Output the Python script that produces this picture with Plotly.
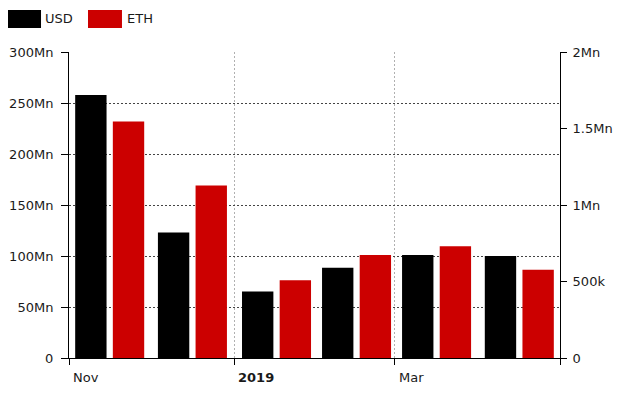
import plotly.graph_objects as go

months = ["2018-11-01", "2018-12-01", "2019-01-01", "2019-02-01", "2019-03-01", "2019-04-01"]
usd_values = [257.8e6, 123.0e6, 65.1e6, 88.6e6, 101.1e6, 100.1e6]
eth_values = [1.546e6, 1.127e6, 0.508e6, 0.674e6, 0.731e6, 0.576e6]

x_tick_vals = ["2018-11-01", "2019-01-01", "2019-03-01", "2019-05-01"]
x_tick_labels = ["Nov", "<b>2019</b>", "Mar"]
y1_tick_vals = [0, 50e6, 100e6, 150e6, 200e6, 250e6, 300e6]
y1_tick_labels = ["0", "50Mn", "100Mn", "150Mn", "200Mn", "250Mn", "300Mn"]
y2_tick_vals = [0, 0.5e6, 1e6, 1.5e6, 2e6]
y2_tick_labels = ["0", "500k", "1Mn", "1.5Mn", "2Mn"]

USD_COLOR = "#000000"
ETH_COLOR = "#cc0000"
FONT = dict(family="DejaVu Sans", size=13, color="#1a1a1a")

fig = go.Figure()
fig.add_trace(go.Bar(
    x=months, y=usd_values, name="USD", marker=dict(color=USD_COLOR, line=dict(width=0)),
    xperiod="M1", xperiodalignment="middle", offsetgroup="1", yaxis="y", showlegend=False,
))
fig.add_trace(go.Bar(
    x=months, y=eth_values, name="ETH", marker=dict(color=ETH_COLOR, line=dict(width=0)),
    xperiod="M1", xperiodalignment="middle", offsetgroup="2", yaxis="y2", showlegend=False,
))

fig.update_layout(
    width=613, height=385,
    margin=dict(l=61, r=61, t=44, b=35),
    paper_bgcolor="white", plot_bgcolor="white",
    font=FONT,
    barmode="group", bargap=0.059, bargroupgap=0.167,
    xaxis=dict(
        type="date", range=["2018-11-01", "2019-05-01"],
        tickvals=x_tick_vals, showticklabels=False, automargin=False,
        ticks="outside", ticklen=6, tickcolor="black",
        showline=True, linecolor="black", linewidth=1,
        showgrid=True, gridcolor="#b0b0b0", griddash="2px,2px", gridwidth=1,
        zeroline=False,
    ),
    yaxis=dict(
        range=[0, 300e6], tickvals=y1_tick_vals, ticktext=y1_tick_labels, automargin=False,
        ticks="outside", ticklen=7, tickcolor="black", ticklabelstandoff=5,
        showline=True, linecolor="black", linewidth=1,
        showgrid=True, gridcolor="#444444", griddash="2px,2px", gridwidth=1,
        zeroline=False,
    ),
    yaxis2=dict(
        range=[0, 2e6], tickvals=y2_tick_vals, ticktext=y2_tick_labels, automargin=False,
        overlaying="y", side="right",
        ticks="outside", ticklen=6, tickcolor="black", ticklabelstandoff=3,
        showline=True, linecolor="black", linewidth=1,
        showgrid=False, zeroline=False,
    ),
)

# x tick labels, left-aligned at each tick
for v, lab in zip(x_tick_vals, x_tick_labels):
    fig.add_annotation(x=v, xref="x", y=0, yref="paper", text=lab, showarrow=False,
                       xanchor="left", yanchor="top", yshift=-10, xshift=2, font=FONT)

# legend (large swatches)
legend_items = [("USD", USD_COLOR, -0.1263, -0.0570, -0.053), ("ETH", ETH_COLOR, 0.0387, 0.1079, 0.114)]
for name, color, x0, x1, xt in legend_items:
    fig.add_shape(type="rect", xref="paper", yref="paper", x0=x0, x1=x1, y0=1.0784, y1=1.1373,
                  fillcolor=color, line=dict(width=0))
    fig.add_annotation(x=xt, xref="paper", y=1.108, yref="paper", text=name, showarrow=False,
                       xanchor="left", yanchor="middle", font=FONT)

fig.write_html("out.html")
